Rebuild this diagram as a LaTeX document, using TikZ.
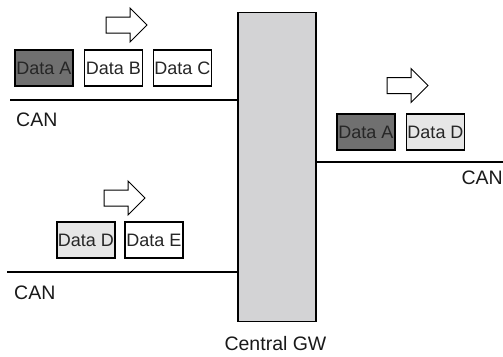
\documentclass[tikz,border=0pt]{standalone}
\usepackage{fontspec}
\setmainfont{Liberation Sans}

\definecolor{gwgray}{HTML}{D3D3D5}
\definecolor{darkdata}{HTML}{707070}
\definecolor{lightdata}{HTML}{E6E6E6}

% hollow arrow: left end x, middle y
\newcommand{\hollowarrow}[2]{%
  \draw[line width=1pt, fill=white] (#1,#2-8) -- ++(24,0) -- ++(0,-9) -- ++(17,17)
    -- ++(-17,17) -- ++(0,-9) -- ++(-24,0) -- cycle;}

\begin{document}
\begin{tikzpicture}[x=1pt, y=-1pt,
    databox/.style={draw, line width=1.6pt, minimum width=58pt, minimum height=36pt,
      inner sep=0pt, font=\fontsize{18}{20}\selectfont, text=black!85},
    bus/.style={line width=2.2pt},
    lbl/.style={font=\fontsize{19.5}{22}\selectfont, inner sep=0pt, text=black!90}]
		\useasboundingbox (0,0) rectangle (503,356);
		
		% gateway
		\node[draw, line width=1.6pt, fill=gwgray, minimum width=78pt, minimum height=309pt,
		  inner sep=0pt] (gw) at (277,167) {};
		\node[lbl] (gwlabel) at (275.5,344) {Central GW};
		
		% upper left CAN
		\coordinate (canA) at (10,100);
		\draw[bus] (canA) -- (canA -| gw.west);
		\node[lbl, anchor=west] (canAlabel) at (16,120) {CAN};
		\node[databox, fill=darkdata] (dataA) at (44,68) {Data A};
		\node[databox, fill=white] (dataB) at (113.5,68) {Data B};
		\node[databox, fill=white] (dataC) at (182.5,68) {Data C};
		\hollowarrow{106}{25}
		
		% lower left CAN
		\coordinate (canB) at (7,272);
		\draw[bus] (canB) -- (canB -| gw.west);
		\node[lbl, anchor=west] (canBlabel) at (14,293) {CAN};
		\node[databox, fill=lightdata] (dataD) at (86,240) {Data D};
		\node[databox, fill=white] (dataE) at (154,240) {Data E};
		\hollowarrow{104}{198}
		
		% right CAN
		\coordinate (canC) at (503,162);
		\draw[bus] (gw.east |- canC) -- (canC);
		\node[lbl, anchor=east] (canClabel) at (503,178) {CAN};
		\node[databox, fill=darkdata] (dataAout) at (366,132) {Data A};
		\node[databox, fill=lightdata] (dataDout) at (435.5,132) {Data D};
		\hollowarrow{387}{85.5}
		
	\end{tikzpicture}
\end{document}
